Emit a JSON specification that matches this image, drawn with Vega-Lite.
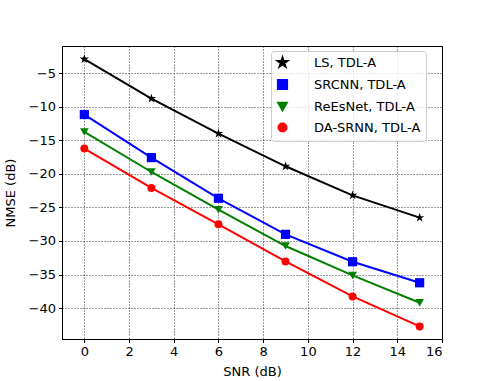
{
  "$schema": "https://vega.github.io/schema/vega-lite/v6.json",
  "width": 380,
  "height": 293,
  "autosize": {"type": "none"},
  "padding": {"left": 62, "top": 46, "right": 49, "bottom": 42},
  "background": "white",
  "config": {
    "font": "DejaVu Sans",
    "view": {"stroke": "black", "strokeWidth": 1},
    "axis": {
      "domainColor": "black",
      "tickColor": "black",
      "tickSize": 3.5,
      "labelColor": "black",
      "labelFontSize": 13,
      "labelPadding": 3,
      "titleFontSize": 13,
      "titleFontWeight": "normal",
      "titleColor": "black",
      "grid": true,
      "gridColor": "black",
      "gridDash": [1, 2],
      "gridWidth": 0.8,
      "gridOpacity": 1
    }
  },
  "data": {
    "values": [
      {"snr": 0, "nmse": -2.9, "method": "LS, TDL-A"},
      {"snr": 3, "nmse": -8.78, "method": "LS, TDL-A"},
      {"snr": 6, "nmse": -13.99, "method": "LS, TDL-A"},
      {"snr": 9, "nmse": -18.87, "method": "LS, TDL-A"},
      {"snr": 12, "nmse": -23.2, "method": "LS, TDL-A"},
      {"snr": 15, "nmse": -26.52, "method": "LS, TDL-A"},
      {"snr": 0, "nmse": -11.16, "method": "SRCNN, TDL-A"},
      {"snr": 3, "nmse": -17.58, "method": "SRCNN, TDL-A"},
      {"snr": 6, "nmse": -23.64, "method": "SRCNN, TDL-A"},
      {"snr": 9, "nmse": -29.01, "method": "SRCNN, TDL-A"},
      {"snr": 12, "nmse": -33.09, "method": "SRCNN, TDL-A"},
      {"snr": 15, "nmse": -36.22, "method": "SRCNN, TDL-A"},
      {"snr": 0, "nmse": -13.75, "method": "ReEsNet, TDL-A"},
      {"snr": 3, "nmse": -19.72, "method": "ReEsNet, TDL-A"},
      {"snr": 6, "nmse": -25.33, "method": "ReEsNet, TDL-A"},
      {"snr": 9, "nmse": -30.75, "method": "ReEsNet, TDL-A"},
      {"snr": 12, "nmse": -35.13, "method": "ReEsNet, TDL-A"},
      {"snr": 15, "nmse": -39.2, "method": "ReEsNet, TDL-A"},
      {"snr": 0, "nmse": -16.23, "method": "DA-SRNN, TDL-A"},
      {"snr": 3, "nmse": -22.1, "method": "DA-SRNN, TDL-A"},
      {"snr": 6, "nmse": -27.52, "method": "DA-SRNN, TDL-A"},
      {"snr": 9, "nmse": -33.04, "method": "DA-SRNN, TDL-A"},
      {"snr": 12, "nmse": -38.26, "method": "DA-SRNN, TDL-A"},
      {"snr": 15, "nmse": -42.73, "method": "DA-SRNN, TDL-A"}
    ]
  },
  "layer": [
    {
      "mark": {"type": "line", "strokeWidth": 2},
      "encoding": {
        "x": {
          "field": "snr",
          "type": "quantitative",
          "scale": {"domain": [-1, 16], "nice": false, "zero": false},
          "axis": {"values": [0, 2, 4, 6, 8, 10, 12, 14, 16], "title": "SNR (dB)", "titlePadding": 7}
        },
        "y": {
          "field": "nmse",
          "type": "quantitative",
          "scale": {"domain": [-44.6, -0.95], "nice": false, "zero": false},
          "axis": {"values": [-40, -35, -30, -25, -20, -15, -10, -5], "title": "NMSE (dB)", "titlePadding": 11}
        },
        "color": {
          "field": "method",
          "type": "nominal",
          "scale": {
            "domain": ["LS, TDL-A", "SRCNN, TDL-A", "ReEsNet, TDL-A", "DA-SRNN, TDL-A"],
            "range": ["#000000", "#0000ff", "#008000", "#ff0000"]
          },
          "legend": {
            "title": null,
            "orient": "none",
            "legendX": 209,
            "legendY": 5,
            "padding": 5,
            "fillColor": "rgba(255,255,255,0.8)",
            "strokeColor": "#cccccc",
            "cornerRadius": 3,
            "labelFontSize": 13,
            "labelColor": "black",
            "labelOffset": 25,
            "rowPadding": 4,
            "symbolSize": 225,
            "symbolStrokeWidth": 2,
            "symbolType": "M-1,0H2.93M1,-0.5L1.112,-0.155L1.476,-0.155L1.182,0.059L1.294,0.405L1,0.191L0.706,0.405L0.818,0.059L0.524,-0.155L0.888,-0.155Z",
            "encode": {
              "symbols": {
                "update": {
                  "fill": {"scale": "color", "field": "value"},
                  "stroke": {"scale": "color", "field": "value"},
                  "shape": {"value": "M-1,0H2.93M1,-0.5L1.112,-0.155L1.476,-0.155L1.182,0.059L1.294,0.405L1,0.191L0.706,0.405L0.818,0.059L0.524,-0.155L0.888,-0.155Z"},
                  "size": {"value": 225},
                  "strokeWidth": {"value": 2},
                  "opacity": {"value": 1}
                }
              }
            }
          }
        }
      }
    },
    {
      "mark": {"type": "point", "filled": true, "opacity": 1},
      "encoding": {
        "x": {"field": "snr", "type": "quantitative"},
        "y": {"field": "nmse", "type": "quantitative"},
        "color": {"field": "method", "type": "nominal", "legend": null},
        "shape": {
          "field": "method",
          "type": "nominal",
          "scale": {
            "domain": ["LS, TDL-A", "SRCNN, TDL-A", "ReEsNet, TDL-A", "DA-SRNN, TDL-A"],
            "range": ["M0,-1L0.225,-0.309L0.951,-0.309L0.363,0.118L0.588,0.809L0,0.382L-0.588,0.809L-0.363,0.118L-0.951,-0.309L-0.225,-0.309Z", "square", "triangle-down", "circle"]
          },
          "legend": null
        },
        "size": {
          "field": "method",
          "type": "nominal",
          "scale": {
            "domain": ["LS, TDL-A", "SRCNN, TDL-A", "ReEsNet, TDL-A", "DA-SRNN, TDL-A"],
            "range": [95, 64, 80, 75]
          },
          "legend": null
        }
      }
    }
  ]
}
